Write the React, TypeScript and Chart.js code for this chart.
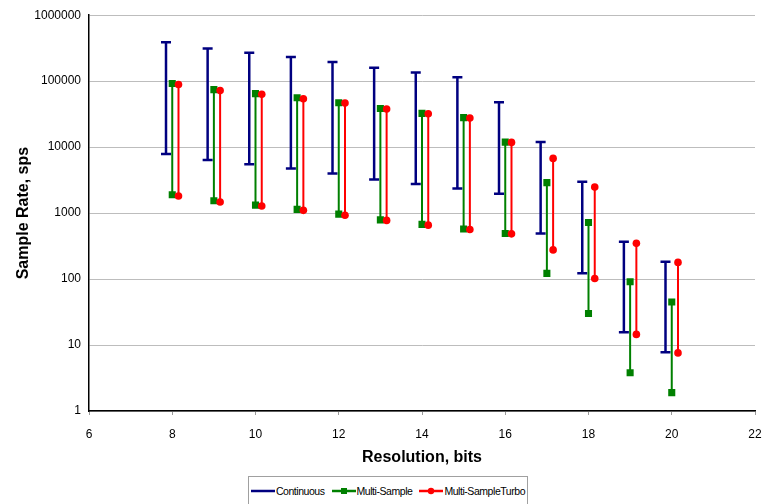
import React, { useEffect, useRef } from "react";
import { Chart, registerables } from "chart.js";

Chart.register(...registerables);

const resolutions = [8, 9, 10, 11, 12, 13, 14, 15, 16, 17, 18, 19, 20];

const continuousMax = [390000, 313000, 270000, 233000, 195000, 160000, 135000, 115000, 48000, 12000, 3000, 367, 183];
const continuousMin = [7900, 6400, 5500, 4750, 4000, 3230, 2770, 2360, 1960, 490, 122, 15.6, 7.8];

const multiMax = [92000, 74500, 64800, 56000, 47000, 38500, 32500, 28000, 11900, 2900, 722, 91, 45];
const multiMin = [1900, 1540, 1320, 1140, 966, 790, 674, 575, 492, 122, 30, 3.8, 1.9];

const turboMax = [89000, 72000, 63500, 54000, 46500, 37800, 32000, 27700, 11800, 6750, 2480, 348, 179];
const turboMin = [1820, 1470, 1280, 1100, 930, 775, 657, 565, 485, 277, 102, 14.5, 7.6];

const yTicks = [1, 10, 100, 1000, 10000, 100000, 1000000];

const FONT = "'Liberation Sans', Arial, Helvetica, sans-serif";

function rangePoints(maxs: number[], mins: number[], offset: number) {
  const pts: { x: number; y: number | null }[] = [];
  resolutions.forEach((r, i) => {
    pts.push({ x: r + offset, y: maxs[i] });
    pts.push({ x: r + offset, y: mins[i] });
    pts.push({ x: r + offset, y: null });
  });
  return pts;
}

export default function App() {
  const ref = useRef<HTMLCanvasElement | null>(null);

  useEffect(() => {
    document.body.style.margin = "0";
    const canvas = ref.current;
    if (!canvas) return;
    const chart = new Chart(canvas, {
      type: "scatter",
      data: {
        datasets: [
          {
            label: "Continuous",
            data: rangePoints(continuousMax, continuousMin, -0.15),
            showLine: true,
            spanGaps: false,
            borderColor: "#000080",
            backgroundColor: "#000080",
            borderWidth: 2.5,
            pointStyle: "line",
            pointRadius: 5,
            pointBorderWidth: 2.5,
            pointBorderColor: "#000080",
            order: 2,
          },
          {
            label: "Multi-Sample",
            data: rangePoints(multiMax, multiMin, 0),
            showLine: true,
            spanGaps: false,
            borderColor: "#008000",
            backgroundColor: "#008000",
            borderWidth: 2,
            pointStyle: "rect",
            pointRadius: 5,
            pointBorderWidth: 0,
            order: 1,
          },
          {
            label: "Multi-SampleTurbo",
            data: rangePoints(turboMax, turboMin, 0.15),
            showLine: true,
            spanGaps: false,
            borderColor: "#ff0000",
            backgroundColor: "#ff0000",
            borderWidth: 2,
            pointStyle: "circle",
            pointRadius: 3.8,
            pointBorderWidth: 0,
            order: 0,
          },
        ],
      },
      options: {
        animation: false,
        responsive: false,
        devicePixelRatio: 1,
        layout: { padding: { left: 10, right: 10, top: 15, bottom: 33 } },
        plugins: {
          legend: { display: false },
          tooltip: { enabled: false },
        },
        scales: {
          x: {
            type: "linear",
            min: 6,
            max: 22,
            ticks: {
              stepSize: 2,
              color: "#000",
              font: { family: FONT, size: 12 },
              padding: 12,
              maxRotation: 0,
            },
            grid: {
              display: true,
              drawOnChartArea: false,
              drawTicks: true,
              tickLength: 4,
              tickColor: "#999",
            },
            border: { display: true, color: "#000", width: 1.5 },
            title: {
              display: true,
              text: "Resolution, bits",
              color: "#000",
              font: { family: FONT, size: 16, weight: "bold" },
            },
            afterFit: (s: any) => {
              s.height = 60;
              s.paddingLeft = 0;
              s.paddingRight = 0;
            },
          },
          y: {
            type: "logarithmic",
            min: 1,
            max: 1000000,
            afterBuildTicks: (s: any) => {
              s.ticks = yTicks.map((v) => ({ value: v }));
            },
            ticks: {
              color: "#000",
              font: { family: FONT, size: 12 },
              padding: 8,
              callback: (v: any) => String(v),
            },
            grid: {
              color: "#bdbdbd",
              lineWidth: 1,
              drawTicks: false,
            },
            border: { display: true, color: "#000", width: 1.5 },
            title: {
              display: true,
              text: "Sample Rate, sps",
              color: "#000",
              font: { family: FONT, size: 16, weight: "bold" },
            },
            afterFit: (s: any) => {
              s.width = 79;
            },
          },
        },
      },
    });
    return () => chart.destroy();
  }, []);

  const legendItem = (color: string, label: string, marker: "none" | "rect" | "circle", gap: number) => (
    <div style={{ display: "flex", alignItems: "center", marginRight: gap, whiteSpace: "nowrap" }}>
      <svg width={24} height={10} style={{ marginRight: 1, flexShrink: 0 }}>
        <line x1={0} y1={5} x2={24} y2={5} stroke={color} strokeWidth={2.5} />
        {marker === "rect" && <rect x={9} y={2} width={6} height={6} fill={color} />}
        {marker === "circle" && <circle cx={12} cy={5} r={3.2} fill={color} />}
      </svg>
      <span>{label}</span>
    </div>
  );

  return (
    <div style={{ position: "fixed", left: 0, top: 0, width: 765, height: 504, background: "#fff" }}>
      <canvas ref={ref} width={765} height={504} style={{ display: "block", width: 765, height: 504 }} />
      <div
        style={{
          position: "absolute",
          left: 248,
          top: 476,
          width: 280,
          height: 28,
          boxSizing: "border-box",
          border: "1px solid #a0a0a0",
          borderBottom: "none",
          background: "#fff",
          display: "flex",
          alignItems: "center",
          justifyContent: "center",
          fontFamily: FONT,
          fontSize: 10.5,
          color: "#000",
          letterSpacing: -0.45,
          whiteSpace: "nowrap",
          overflow: "visible",
        }}
      >
        {legendItem("#000080", "Continuous", "none", 7)}
        {legendItem("#008000", "Multi-Sample", "rect", 7)}
        {legendItem("#ff0000", "Multi-SampleTurbo", "circle", 0)}
      </div>
    </div>
  );
}
